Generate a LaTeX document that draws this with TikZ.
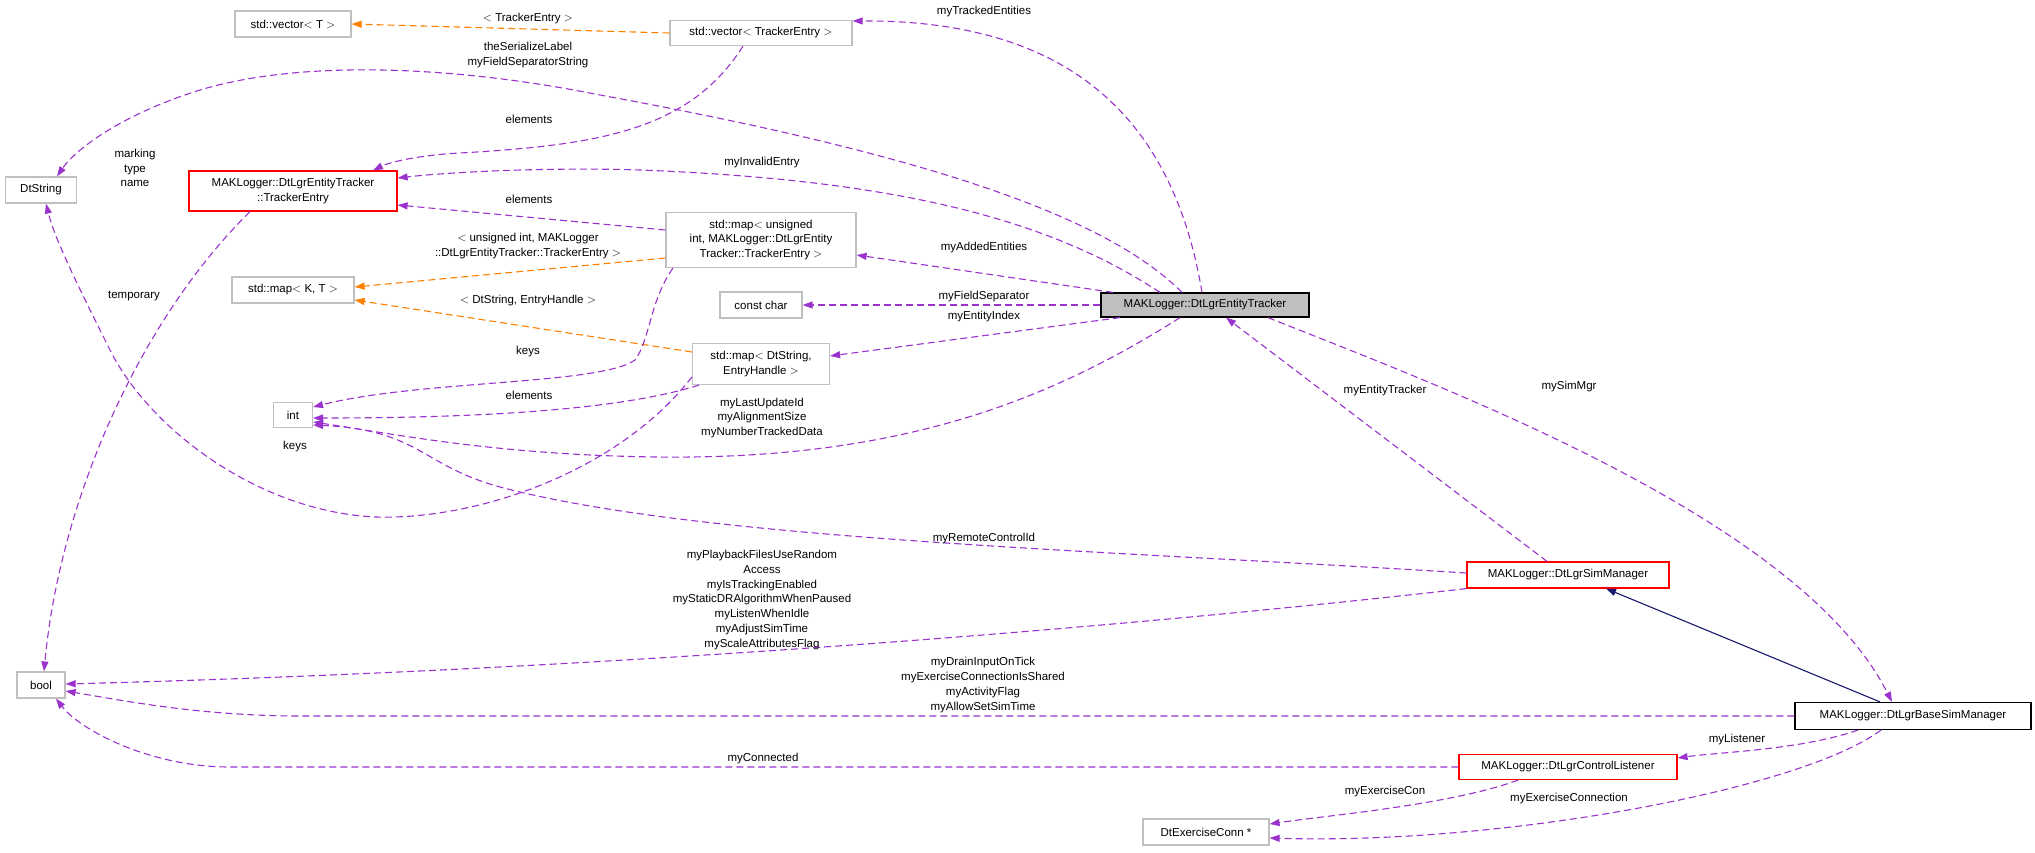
\documentclass[tikz,border=0pt]{standalone}
\usepackage{fontspec}
\setmainfont{Liberation Sans}
\usetikzlibrary{arrows.meta}
\definecolor{edgep}{HTML}{9A32CD}
\definecolor{boxg}{HTML}{BFBFBF}
\definecolor{navy}{HTML}{191970}
\begin{document}
\begin{tikzpicture}[x=1pt,y=-1pt,
  every node/.style={font=\fontsize{11.5}{14.7}\selectfont},
  box/.style={draw=boxg,line width=1.2pt,fill=white,inner sep=0pt,align=center},
  rbox/.style={box,draw=red},
  kbox/.style={box,draw=black},
  lab/.style={inner sep=0pt,align=center},
  rel/.style={edgep,line width=1.1pt,dash pattern=on 7pt off 4pt,-{Triangle[length=10pt,width=7pt]}},
  tpl/.style={rel,draw=orange,-{Triangle[length=10pt,width=7pt,fill=orange]}},
  inh/.style={navy,line width=1.1pt,-{Triangle[length=10pt,width=7pt]}}]
\useasboundingbox (0,0) rectangle (2035,852);
% nodes
\node[box,minimum width=116,minimum height=26] (vecT) at (293,24) {std::vector$<$ T $>$};
\node[box,minimum width=182,minimum height=25] (vecTE) at (761,33) {std::vector$<$ TrackerEntry $>$};
\node[box,minimum width=71,minimum height=26] (DtString) at (41,190) {DtString};
\node[rbox,minimum width=208,minimum height=40] (TE) at (293,191) {MAKLogger::DtLgrEntityTracker\\::TrackerEntry};
\node[box,minimum width=190,minimum height=55] (mapUI) at (761,240) {std::map$<$ unsigned\\ int, MAKLogger::DtLgrEntity\\Tracker::TrackerEntry $>$};
\node[box,minimum width=122,minimum height=26] (mapKT) at (293,290) {std::map$<$ K, T $>$};
\node[box,minimum width=82,minimum height=26] (cc) at (761,305) {const char};
\node[box,minimum width=137,minimum height=41] (mapDS) at (761,364) {std::map$<$ DtString,\\ EntryHandle $>$};
\node[box,minimum width=39,minimum height=25] (int) at (293,415) {int};
\node[kbox,fill=boxg,minimum width=208,minimum height=24] (ET) at (1205,305) {MAKLogger::DtLgrEntityTracker};
\node[box,minimum width=48,minimum height=26] (bool) at (41,685) {bool};
\node[rbox,minimum width=202,minimum height=26] (SimMgr) at (1568,575) {MAKLogger::DtLgrSimManager};
\node[kbox,minimum width=236,minimum height=27] (BSM) at (1913,716) {MAKLogger::DtLgrBaseSimManager};
\node[rbox,minimum width=218,minimum height=25] (CL) at (1568,767) {MAKLogger::DtLgrControlListener};
\node[box,minimum width=126,minimum height=26] (DEC) at (1206,832) {DtExerciseConn *};
% edges
\draw[tpl] (vecTE.west) -- (vecT.east);
\draw[rel] ([xshift=-18pt]vecTE.south) .. controls (690,130) and (600,145) .. (460,153) .. controls (420,155) and (390,162) .. ([xshift=80pt]TE.north);
\draw[rel] ([xshift=-3pt]ET.north) .. controls (1170,100) and (1050,20) .. ([yshift=12pt]vecTE.east);
\draw[rel] ([xshift=-23pt]ET.north) .. controls (1100,210) and (900,150) .. (600,95) .. controls (450,65) and (300,60) .. (200,90) .. controls (120,115) and (75,150) .. ([xshift=16pt]DtString.north);
\draw[rel] ([xshift=-45pt]ET.north) .. controls (1050,220) and (900,180) .. (640,170) .. controls (550,167) and (450,172) .. ([yshift=13pt]TE.east);
\draw[rel] ([yshift=10pt]mapUI.west) -- ([yshift=-14pt]TE.east);
\draw[tpl] ([yshift=-18pt]mapUI.west) -- ([yshift=3pt]mapKT.east);
\draw[tpl] ([yshift=12pt]mapDS.west) -- ([yshift=-10pt]mapKT.east);
\draw[rel] ([xshift=-92pt]ET.north) -- ([yshift=-15pt]mapUI.east);
\draw[rel] (ET.west) -- (cc.east);
\draw[rel] ([xshift=-85pt]ET.south) -- ([yshift=8pt]mapDS.east);
\draw[rel] ([xshift=-88pt]mapUI.south) .. controls (650,300) and (650,340) .. (635,360) .. controls (600,385) and (420,380) .. ([yshift=8pt]int.east);
\draw[rel] ([xshift=-62pt]mapDS.south) .. controls (620,410) and (480,418) .. ([yshift=-3pt]int.east);
\draw[rel] ([yshift=-13pt]mapDS.west) .. controls (620,470) and (480,520) .. (376,517) .. controls (260,512) and (150,430) .. (110,350) .. controls (80,290) and (55,240) .. ([xshift=5pt]DtString.south);
\draw[rel] ([xshift=-25pt]ET.south) .. controls (1050,400) and (900,460) .. (657,457) .. controls (500,455) and (400,435) .. ([yshift=-7pt]int.east);
\draw[rel] ([xshift=-43pt]TE.south) .. controls (140,320) and (60,500) .. ([xshift=3pt]bool.north);
\draw[rel] ([yshift=2pt]SimMgr.west) .. controls (1100,550) and (700,540) .. (500,487) .. controls (420,465) and (420,430) .. ([yshift=-10pt]int.east);
\draw[rel] (SimMgr.south west) .. controls (1100,630) and (600,670) .. ([yshift=1pt]bool.east);
\draw[rel] (BSM.west) -- (300,716) .. controls (200,716) and (120,700) .. ([yshift=-6pt]bool.east);
\draw[rel] (CL.west) -- (230,767) .. controls (150,767) and (80,730) .. ([xshift=15pt]bool.south);
\draw[rel] ([xshift=-21pt]SimMgr.north) -- ([xshift=21pt]ET.south);
\draw[rel] ([xshift=63pt]ET.south) .. controls (1450,390) and (1800,520) .. ([xshift=-21pt]BSM.north);
\draw[inh] ([xshift=-33pt]BSM.north) -- ([xshift=38pt]SimMgr.south);
\draw[rel] ([xshift=-55pt]BSM.south) .. controls (1800,750) and (1720,752) .. ([yshift=9pt]CL.east);
\draw[rel] ([xshift=-32pt]BSM.south) .. controls (1800,790) and (1500,845) .. ([yshift=-6pt]DEC.east);
\draw[rel] ([xshift=-50pt]CL.south) .. controls (1450,805) and (1330,815) .. ([yshift=8pt]DEC.east);
% labels
\node[lab] (l1) at (528,19) {$<$ TrackerEntry $>$};
\node[lab] (l2) at (528,55) {theSerializeLabel\\myFieldSeparatorString};
\node[lab] (l3) at (529,119) {elements};
\node[lab] (l4) at (135,168) {marking\\type\\name};
\node[lab] (l5) at (762,163) {myInvalidEntry};
\node[lab] (l6) at (529,199) {elements};
\node[lab] (l7) at (528,246) {$<$ unsigned int, MAKLogger\\::DtLgrEntityTracker::TrackerEntry $>$};
\node[lab] (l8) at (528,301) {$<$ DtString, EntryHandle $>$};
\node[lab] (l9) at (528,352) {keys};
\node[lab] (l10) at (529,395) {elements};
\node[lab] (l11) at (762,418) {myLastUpdateId\\myAlignmentSize\\myNumberTrackedData};
\node[lab] (l12) at (295,447) {keys};
\node[lab] (l13) at (134,296) {temporary};
\node[lab] (l14) at (984,12) {myTrackedEntities};
\node[lab] (l15) at (984,248) {myAddedEntities};
\node[lab] (l16) at (984,297) {myFieldSeparator};
\node[lab] (l17) at (984,317) {myEntityIndex};
\node[lab] (l18) at (1385,391) {myEntityTracker};
\node[lab] (l19) at (1569,387) {mySimMgr};
\node[lab] (l20) at (984,539) {myRemoteControlId};
\node[lab] (l21) at (762,600) {myPlaybackFilesUseRandom\\Access\\myIsTrackingEnabled\\myStaticDRAlgorithmWhenPaused\\myListenWhenIdle\\myAdjustSimTime\\myScaleAttributesFlag};
\node[lab] (l22) at (983,685) {myDrainInputOnTick\\myExerciseConnectionIsShared\\myActivityFlag\\myAllowSetSimTime};
\node[lab] (l23) at (763,759) {myConnected};
\node[lab] (l24) at (1737,740) {myListener};
\node[lab] (l25) at (1385,792) {myExerciseCon};
\node[lab] (l26) at (1569,799) {myExerciseConnection};
\end{tikzpicture}
\end{document}
